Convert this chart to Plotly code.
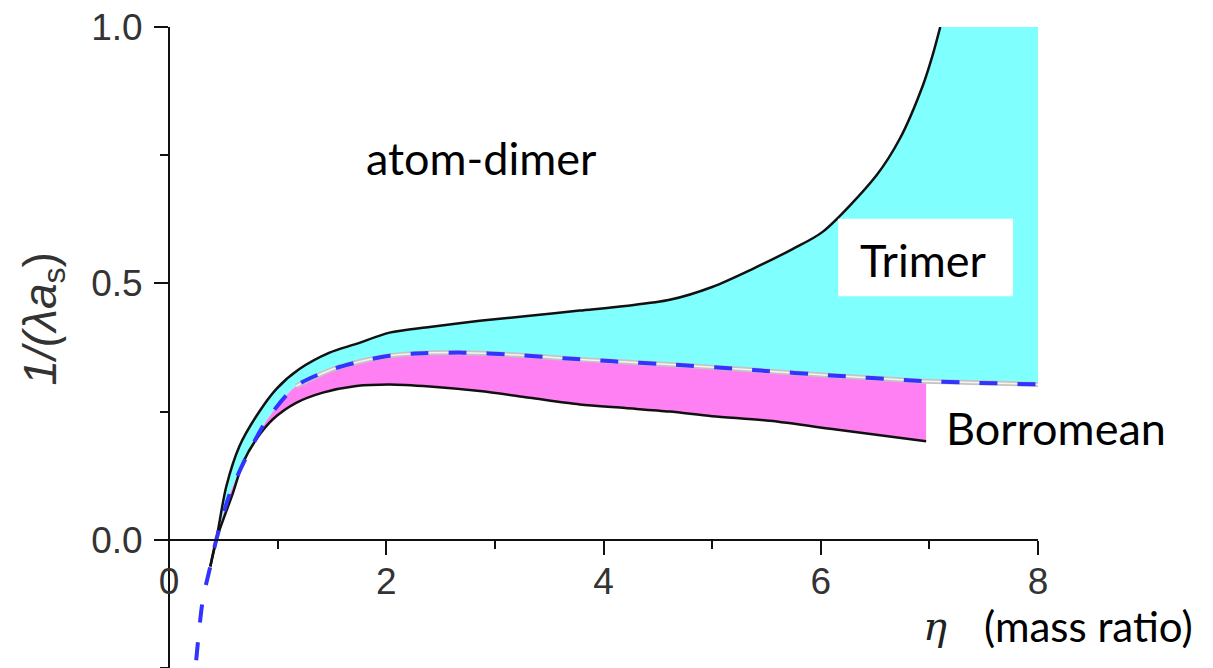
import plotly.graph_objects as go

# ---- data ----
eta_upper = [0.38, 0.435, 0.527, 0.649, 0.803, 0.987, 1.20, 1.478, 1.724, 2.03, 2.4, 2.86,
             3.32, 3.78, 4.2, 4.61, 5.0, 5.37, 5.74, 6.02, 6.51, 6.73, 6.94, 7.03, 7.10]
y_upper = [-0.052, 0.0, 0.104, 0.183, 0.241, 0.294, 0.333, 0.365, 0.382, 0.404, 0.415, 0.427,
           0.437, 0.447, 0.456, 0.468, 0.493, 0.528, 0.567, 0.601, 0.710, 0.783, 0.886, 0.945, 1.0]

eta_lower = [0.38, 0.435, 0.588, 0.68, 0.803, 0.956, 1.17, 1.416, 1.724, 2.03, 2.40, 2.86,
             3.32, 3.78, 4.2, 4.61, 5.0, 5.53, 6.14, 6.97]
y_lower = [-0.052, 0.0, 0.091, 0.150, 0.196, 0.235, 0.267, 0.287, 0.300, 0.303, 0.299, 0.290,
           0.277, 0.264, 0.257, 0.250, 0.241, 0.232, 0.215, 0.192]

eta_bnd = [0.25, 0.311, 0.38, 0.435, 0.56, 0.73, 0.905, 1.17, 1.51, 1.85, 2.03, 2.24, 2.71,
           3.17, 3.63, 4.09, 4.61, 5.38, 6.14, 6.88, 6.97, 8.0]
y_bnd = [-0.235, -0.117, -0.052, 0.0, 0.09, 0.169, 0.235, 0.300, 0.333, 0.352, 0.359, 0.363, 0.365,
         0.361, 0.354, 0.348, 0.342, 0.331, 0.320, 0.310, 0.309, 0.303]

x_ticks = [0, 2, 4, 6, 8]
y_ticks = [0.0, 0.5, 1.0]
y_tick_text = ["0.0", "0.5", "1.0"]

X_RANGE = [-0.12, 8.0]
Y_RANGE = [-0.25, 1.0]

CYAN = "#80ffff"
PINK = "#ff80f2"
BLUE = "#3333ff"
SMOOTH = 0.8

i0 = eta_bnd.index(0.38)
i_end = eta_bnd.index(eta_lower[-1])

fig = go.Figure()
# cyan region: between boundary and upper (trimer) curve
fig.add_trace(go.Scatter(x=eta_bnd[i0:], y=y_bnd[i0:], mode="lines",
                         line=dict(width=0, shape="spline", smoothing=SMOOTH),
                         hoverinfo="skip", showlegend=False))
fig.add_trace(go.Scatter(x=eta_upper, y=y_upper, mode="lines", fill="tonexty", fillcolor=CYAN,
                         line=dict(width=0, shape="spline", smoothing=SMOOTH),
                         hoverinfo="skip", showlegend=False))
# cyan corner up to the right edge
fig.add_trace(go.Scatter(x=[eta_upper[-1], X_RANGE[1], X_RANGE[1], eta_upper[-1]],
                         y=[Y_RANGE[1], Y_RANGE[1], y_bnd[-1], 0.5],
                         mode="lines", fill="toself", fillcolor=CYAN, line=dict(width=0),
                         hoverinfo="skip", showlegend=False))
# pink region: between lower curve and boundary
fig.add_trace(go.Scatter(x=eta_bnd[i0:i_end + 1], y=y_bnd[i0:i_end + 1], mode="lines",
                         line=dict(width=0, shape="spline", smoothing=SMOOTH),
                         hoverinfo="skip", showlegend=False))
fig.add_trace(go.Scatter(x=eta_lower, y=y_lower, mode="lines", fill="tonexty", fillcolor=PINK,
                         line=dict(width=0, shape="spline", smoothing=SMOOTH),
                         hoverinfo="skip", showlegend=False))

g0 = eta_bnd.index(1.17)
fig.add_trace(go.Scatter(x=eta_bnd[g0:], y=y_bnd[g0:], mode="lines",
                         line=dict(color="#c4c4c4", width=5, shape="spline", smoothing=SMOOTH),
                         hoverinfo="skip", showlegend=False))
fig.add_trace(go.Scatter(x=eta_bnd[g0:], y=y_bnd[g0:], mode="lines",
                         line=dict(color="#f4f4f4", width=1.5, shape="spline", smoothing=SMOOTH),
                         hoverinfo="skip", showlegend=False))
fig.add_trace(go.Scatter(x=eta_upper, y=y_upper, mode="lines",
                         line=dict(color="#111111", width=2.5, shape="spline", smoothing=SMOOTH),
                         showlegend=False))
fig.add_trace(go.Scatter(x=eta_lower, y=y_lower, mode="lines",
                         line=dict(color="#111111", width=2.5, shape="spline", smoothing=SMOOTH),
                         showlegend=False))
fig.add_trace(go.Scatter(x=eta_bnd, y=y_bnd, mode="lines",
                         line=dict(color=BLUE, width=4, dash="18px,20px", shape="spline",
                                   smoothing=SMOOTH),
                         showlegend=False))

axis_common = dict(showline=True, linecolor="#111111", linewidth=2, showgrid=False,
                   zeroline=False, ticks="outside", ticklen=14, tickwidth=2, tickcolor="#111111")

fig.update_layout(
    width=1213, height=668,
    margin=dict(l=156, r=175, t=27, b=0),
    paper_bgcolor="white", plot_bgcolor="white",
    xaxis=dict(range=X_RANGE, tickvals=x_ticks, ticktext=[str(v) for v in x_ticks],
               anchor="free", position=(0 - Y_RANGE[0]) / (Y_RANGE[1] - Y_RANGE[0]),
               tickfont=dict(family="Liberation Sans, Arial", size=37, color="#333333"),
               ticklabelstandoff=-5,
               minor=dict(ticks="outside", ticklen=8, tickwidth=2, tickcolor="#111111", dtick=1, tick0=0),
               **axis_common),
    yaxis=dict(range=Y_RANGE, tickvals=y_ticks, ticktext=y_tick_text,
               anchor="free", position=(0 - X_RANGE[0]) / (X_RANGE[1] - X_RANGE[0]),
               tickfont=dict(family="Liberation Sans, Arial", size=37, color="#333333"),
               ticklabelstandoff=4,
               minor=dict(ticks="outside", ticklen=8, tickwidth=2, tickcolor="#111111", dtick=0.25, tick0=0),
               **axis_common),
    shapes=[dict(type="rect", xref="x", yref="y", x0=6.16, x1=7.77, y0=0.475, y1=0.626,
                 fillcolor="white", line=dict(width=0), layer="above")],
)

lato = "Lato, Open Sans, sans-serif"
common = dict(showarrow=False, xanchor="center", yanchor="middle")
fig.add_annotation(x=2.873, y=0.744, xref="x", yref="y", text="atom-dimer",
                   font=dict(family=lato, size=45, color="black"), **common)
fig.add_annotation(x=6.95, y=0.545, xref="x", yref="y", text="Trimer",
                   font=dict(family=lato, size=45, color="black"), **common)
fig.add_annotation(x=1.0204, y=0.374, xref="paper", yref="paper", text="Borromean",
                   font=dict(family=lato, size=45, color="black"), **common)
fig.add_annotation(x=0.8832, y=0.066, xref="paper", yref="paper", text="<i>η</i>",
                   font=dict(family="DejaVu Serif, Liberation Serif, serif", size=40, color="#222222"),
                   **common)
fig.add_annotation(x=1.0567, y=0.066, xref="paper", yref="paper", text="(mass ratio)",
                   font=dict(family=lato, size=42, color="black"), **common)
fig.add_annotation(x=-0.128, y=0.43, xref="paper", yref="y", textangle=-90,
                   text="<i>1/(λa</i><sub>s</sub>)",
                   font=dict(family="Liberation Sans, Arial", size=46, color="#333333"), **common)

fig.write_html("out.html")
